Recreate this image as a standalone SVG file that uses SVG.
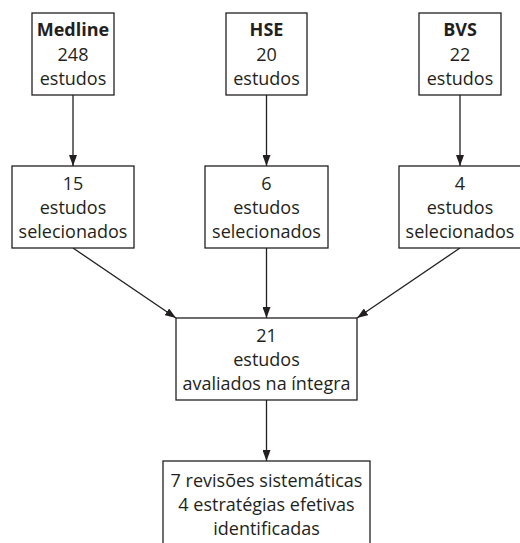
<svg xmlns="http://www.w3.org/2000/svg" width="520" height="543" viewBox="0 0 520 543">
<style>
.box{fill:#fff;stroke:#231f20;stroke-width:1.3}
.t{font-family:"Open Sans","Noto Sans",sans-serif;font-size:18px;fill:#231f20;text-anchor:middle}
.b{font-weight:bold}
.c{stroke:#231f20;stroke-width:1.3;fill:none;marker-end:url(#ah)}
</style>
<defs>
<marker id="ah" markerUnits="userSpaceOnUse" markerWidth="11" markerHeight="8" refX="11" refY="4" orient="auto">
<path d="M0,0 L11,4 L0,8 z" fill="#231f20"/>
</marker>
</defs>
<rect width="520" height="543" fill="#fff"/>
<g id="connectors">
<line class="c" x1="73" y1="95" x2="73" y2="166"/>
<line class="c" x1="266.5" y1="95" x2="266.5" y2="166"/>
<line class="c" x1="460" y1="95" x2="460" y2="166"/>
<line class="c" x1="73" y1="248" x2="176" y2="318"/>
<line class="c" x1="266.5" y1="248" x2="266.5" y2="318"/>
<line class="c" x1="460" y1="248" x2="357" y2="318"/>
<line class="c" x1="266.5" y1="400" x2="266.5" y2="461"/>
</g>
<g id="medline">
<rect class="box" x="32" y="13" width="82" height="82"/>
<text class="t b" x="73" y="36">Medline</text>
<text class="t" x="73" y="60.5">248</text>
<text class="t" x="73" y="84.5">estudos</text>
</g>
<g id="hse">
<rect class="box" x="226" y="13" width="81" height="82"/>
<text class="t b" x="266.5" y="36">HSE</text>
<text class="t" x="266.5" y="60.5">20</text>
<text class="t" x="266.5" y="84.5">estudos</text>
</g>
<g id="bvs">
<rect class="box" x="419" y="13" width="82" height="82"/>
<text class="t b" x="460" y="36">BVS</text>
<text class="t" x="460" y="60.5">22</text>
<text class="t" x="460" y="84.5">estudos</text>
</g>
<g id="medline-sel">
<rect class="box" x="12" y="166" width="122" height="82"/>
<text class="t" x="73" y="189.5">15</text>
<text class="t" x="73" y="213.5">estudos</text>
<text class="t" x="73" y="237.5">selecionados</text>
</g>
<g id="hse-sel">
<rect class="box" x="205" y="166" width="123" height="82"/>
<text class="t" x="266.5" y="189.5">6</text>
<text class="t" x="266.5" y="213.5">estudos</text>
<text class="t" x="266.5" y="237.5">selecionados</text>
</g>
<g id="bvs-sel">
<rect class="box" x="399" y="166" width="123" height="82"/>
<text class="t" x="460" y="189.5">4</text>
<text class="t" x="460" y="213.5">estudos</text>
<text class="t" x="460" y="237.5">selecionados</text>
</g>
<g id="avaliados">
<rect class="box" x="176" y="318" width="181" height="82"/>
<text class="t" x="266.5" y="342">21</text>
<text class="t" x="266.5" y="366">estudos</text>
<text class="t" x="266.5" y="390">avaliados na íntegra</text>
</g>
<g id="resultado">
<rect class="box" x="163" y="461" width="207" height="90"/>
<text class="t" x="266.5" y="486.5">7 revisões sistemáticas</text>
<text class="t" x="266.5" y="510.5">4 estratégias efetivas</text>
<text class="t" x="266.5" y="534.5">identificadas</text>
</g>
</svg>
